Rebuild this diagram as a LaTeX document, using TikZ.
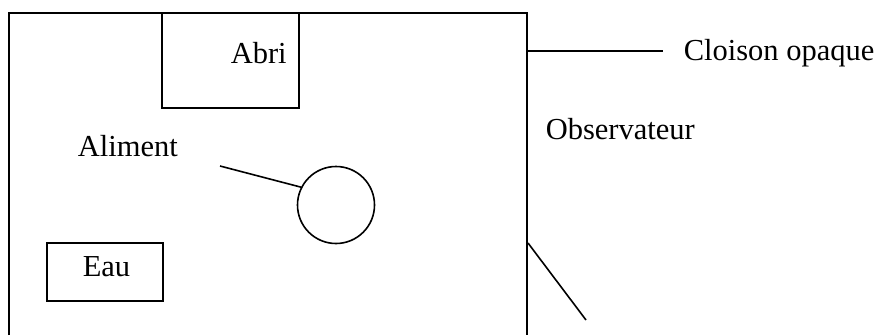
\documentclass[tikz,border=0pt]{standalone}
\usepackage{fontspec}
\setmainfont{Liberation Serif}
\begin{document}
\begin{tikzpicture}[x=1pt,y=-1pt, line width=1.6pt,
  lbl/.style={font=\fontsize{30.5}{36}\selectfont, inner sep=0pt, anchor=base west},
  box/.style={draw, rectangle, inner sep=0pt},
  ring/.style={draw, circle, inner sep=0pt}]
\useasboundingbox (0,0) rectangle (883,335);
% enclosure
\coordinate (bl) at (9,335);
\coordinate (tl) at (9,13);
\coordinate (tr) at (527,13);
\coordinate (br) at (527,335);
\draw (bl) -- (tl) -- (tr) -- (br);
% shelter
\node[box, minimum width=137, minimum height=95] (abribox) at (230.5,60.5) {};
\node[lbl] (abri) at (230,63) {Abri};
% water
\node[box, minimum width=116, minimum height=58] (eaubox) at (105,272) {};
\node[lbl] (eau) at (82,276) {Eau};
% food
\node[ring, minimum size=77] (food) at (336,205) {};
\node[lbl] (aliment) at (77,156) {Aliment};
\coordinate (alA) at (220,166);
\draw (alA) -- (food.153);
% partition
\coordinate (cw) at (527,51);
\coordinate (ce) at (663,51);
\draw (cw) -- (ce);
\node[lbl] (cloison) at (683,60) {Cloison opaque};
% observer
\node[lbl] (obs) at (545,139) {Observateur};
\coordinate (o1) at (528,243);
\coordinate (o2) at (586,320);
\draw (o1) -- (o2);
\end{tikzpicture}
\end{document}
